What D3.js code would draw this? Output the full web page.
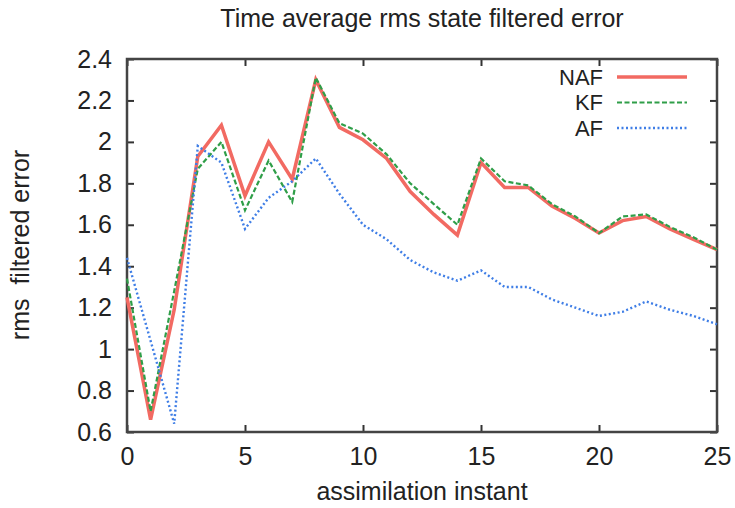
<!DOCTYPE html>
<html>
<head>
<meta charset="utf-8">
<script src="https://cdn.jsdelivr.net/npm/d3@7"></script>
<style>
  body { margin: 0; background: #fff; }
  text { font-family: "Liberation Sans", Arial, sans-serif; fill: #222; }
</style>
</head>
<body>
<div id="chart"></div>
<script>
// data
var instants = [0,1,2,3,4,5,6,7,8,9,10,11,12,13,14,15,16,17,18,19,20,21,22,23,24,25];
var naf = [1.25,0.66,1.19,1.93,2.08,1.74,2.00,1.82,2.30,2.07,2.01,1.92,1.76,1.65,1.55,1.90,1.78,1.78,1.69,1.63,1.56,1.62,1.64,1.58,1.53,1.48];
var kf  = [1.34,0.70,1.28,1.87,2.00,1.67,1.91,1.71,2.31,2.09,2.04,1.94,1.80,1.70,1.60,1.92,1.81,1.79,1.70,1.64,1.56,1.64,1.65,1.59,1.54,1.48];
var af  = [1.44,1.04,0.64,1.98,1.90,1.58,1.73,1.81,1.92,1.75,1.60,1.53,1.43,1.37,1.33,1.38,1.30,1.30,1.24,1.20,1.16,1.18,1.23,1.19,1.16,1.12];
var xTicks = [0,5,10,15,20,25];
var yTicks = [0.6,0.8,1,1.2,1.4,1.6,1.8,2,2.2,2.4];
var seriesNames = ["NAF","KF","AF"];

// settings
var margin = {top: 59, right: 18, bottom: 76, left: 127},
    width = 735 - margin.left - margin.right,
    height = 508 - margin.top - margin.bottom;

var svg = d3.select("#chart")
  .append("svg")
  .attr("width", 735)
  .attr("height", 508)
  .append("g")
  .attr("transform", "translate(" + margin.left + "," + margin.top + ")");

var x = d3.scaleLinear().domain([0, 25]).range([0, width]);
var y = d3.scaleLinear().domain([0.6, 2.4]).range([height, 0]);

var fmt = function(d) { return String(+d.toFixed(1)); };

// axes, ticks pointing inward on all four sides
svg.append("g")
  .attr("transform", "translate(0," + height + ")")
  .call(d3.axisBottom(x).tickValues(xTicks).tickSize(-7).tickPadding(15).tickFormat(fmt));
svg.append("g")
  .call(d3.axisTop(x).tickValues(xTicks).tickSize(-7).tickFormat(""));
svg.append("g")
  .call(d3.axisLeft(y).tickValues(yTicks).tickSize(-7).tickPadding(15).tickFormat(fmt));
svg.append("g")
  .attr("transform", "translate(" + width + ",0)")
  .call(d3.axisRight(y).tickValues(yTicks).tickSize(-7).tickFormat(""));

svg.selectAll(".domain").remove();
svg.selectAll(".tick line").attr("stroke", "#333").attr("stroke-width", 2);
svg.selectAll(".tick text").style("font-size", "25px").attr("fill", "#222");

svg.append("rect")
  .attr("width", width)
  .attr("height", height)
  .attr("fill", "none")
  .attr("stroke", "#444")
  .attr("stroke-width", 2.5);

var line = d3.line()
  .x(function(d, i) { return x(instants[i]); })
  .y(function(d) { return y(d); });

var styles = [
  {data: naf, color: "#f26a62", w: 3.5, dash: null},
  {data: kf,  color: "#2f9e48", w: 2.2, dash: "5,2.5"},
  {data: af,  color: "#3f7ee6", w: 2.4, dash: "2,2.5"}
];

styles.forEach(function(s) {
  svg.append("path")
    .datum(s.data)
    .attr("fill", "none")
    .attr("stroke", s.color)
    .attr("stroke-width", s.w)
    .attr("stroke-dasharray", s.dash)
    .attr("stroke-linejoin", "miter")
    .attr("d", line);
});

// legend
var legend = svg.append("g").attr("transform", "translate(" + (603 - margin.left) + "," + (77 - margin.top) + ")");
seriesNames.forEach(function(name, i) {
  var g = legend.append("g").attr("transform", "translate(0," + (i * 25.5) + ")");
  g.append("text")
    .attr("text-anchor", "end")
    .attr("dy", "0.36em")
    .style("font-size", "22px")
    .text(name);
  g.append("line")
    .attr("x1", 14).attr("x2", 84)
    .attr("stroke", styles[i].color)
    .attr("stroke-width", styles[i].w)
    .attr("stroke-dasharray", styles[i].dash);
});

// title and axis labels
svg.append("text")
  .attr("x", width / 2)
  .attr("y", 27 - margin.top)
  .attr("text-anchor", "middle")
  .style("font-size", "25px")
  .text("Time average rms state filtered error");

svg.append("text")
  .attr("x", width / 2)
  .attr("y", 500 - margin.top)
  .attr("text-anchor", "middle")
  .style("font-size", "25px")
  .text("assimilation instant");

svg.append("text")
  .attr("transform", "translate(" + (29 - margin.left) + "," + (245 - margin.top) + ") rotate(-90)")
  .attr("text-anchor", "middle")
  .style("font-size", "25px")
  .style("white-space", "pre")
  .text("rms  filtered error");
</script>
</body>
</html>
